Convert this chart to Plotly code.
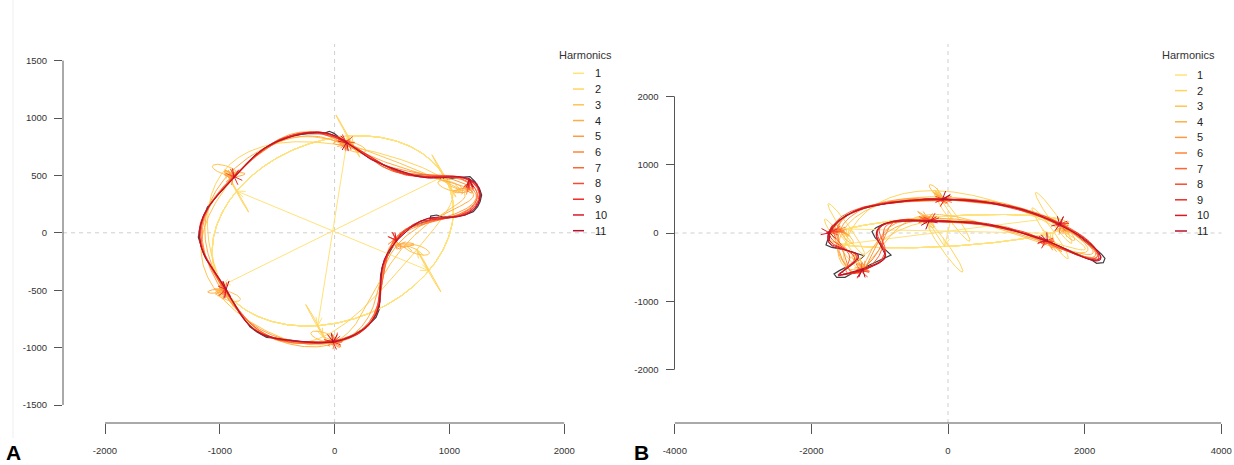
import numpy as np
import plotly.graph_objects as go

# ---------------- data ----------------
# Panel A outline (centred coordinates), starts at the top star
outline_a_x = [99, 192, 308, 424, 541, 686, 860, 976, 1092, 1179, 1223, 1261, 1281, 1267, 1246,
               1208, 1136, 1034, 947, 889, 837, 831, 744, 657, 584, 541, 497, 454, 419, 401,
               395, 395, 387, 361, 303, 236, 163, 105, 41, -40, -185, -330, -476, -592, -673,
               -737, -795, -853, -911, -961, -1019, -1071, -1114, -1143, -1167, -1187, -1178,
               -1158, -1138, -1109, -1056, -998, -940, -894, -839, -766, -679, -586, -476,
               -359, -214, -98, -46, -5, 33]
outline_a_y = [779, 721, 649, 591, 541, 503, 480, 469, 483, 489, 445, 387, 329, 271, 228,
               184, 155, 141, 135, 155, 146, 106, 82, 48, 1, -57, -135, -208, -280, -368,
               -469, -585, -672, -736, -794, -847, -890, -919, -940, -957, -963, -940, -922,
               -911, -867, -818, -736, -649, -556, -469, -382, -301, -237, -179, -98, -39, 24,
               82, 146, 222, 286, 350, 413, 460, 530, 605, 686, 750, 814, 849, 866, 864, 884,
               866, 837]

# Panel B outline, starts near the left tip
outline_b_x = [-1705, -1688, -1606, -1484, -1313, -1093, -849, -556, -264, 29, 322, 615, 908,
               1176, 1444, 1688, 1884, 2030, 2152, 2250, 2298, 2274, 2176, 2103, 1957, 1786,
               1591, 1396, 1200, 956, 712, 468, 224, -20, -264, -508, -752, -947, -1054, -1113,
               -1069, -996, -922, -834, -971, -1166, -1362, -1508, -1630, -1669, -1591, -1425,
               -1288, -1230, -1362, -1532, -1703, -1786, -1767, -1728]
outline_b_y = [20, 68, 176, 264, 337, 400, 444, 478, 493, 493, 478, 444, 390, 317, 220, 102,
               -15, -127, -224, -312, -371, -434, -444, -395, -337, -259, -176, -102, -34, 44,
               102, 142, 161, 171, 181, 181, 161, 132, 78, 20, -63, -151, -239, -322, -386,
               -473, -566, -649, -649, -600, -551, -464, -386, -332, -288, -239, -210, -176,
               -112, -54]

harmonic_labels = ["1", "2", "3", "4", "5", "6", "7", "8", "9", "10", "11"]
harmonic_colors = ["#FFE27A", "#FFD45F", "#FFC452", "#FFAE47", "#FF9A40", "#FF843A",
                   "#FF6433", "#F84A2E", "#EE2B24", "#D91A24", "#B8102C"]

a_xticks = [-2000, -1000, 0, 1000, 2000]
a_yticks = [-1500, -1000, -500, 0, 500, 1000, 1500]
b_xticks = [-4000, -2000, 0, 2000, 4000]
b_yticks = [-2000, -1000, 0, 1000, 2000]

# ---------------- layout geometry (pixels) ----------------
W, H = 1234, 465
A_box = dict(l=63, r=606, t=44, b=423, x0=334.6, y0=232.8, s=0.1148)
B_box = dict(l=674.5, r=1221.5, t=44, b=423, x0=948.0, y0=233.0, s=0.0683)


def rng(box):
    xr = [(box["l"] - box["x0"]) / box["s"], (box["r"] - box["x0"]) / box["s"]]
    yr = [(box["y0"] - box["b"]) / box["s"], (box["y0"] - box["t"]) / box["s"]]
    return xr, yr


def efourier(x, y, nh):
    x = np.asarray(x, float)
    y = np.asarray(y, float)
    dx = np.roll(x, -1) - x
    dy = np.roll(y, -1) - y
    dt = np.hypot(dx, dy)
    dt[dt < 1e-10] = 1e-10
    t1 = np.cumsum(dt)
    t0 = t1 - dt
    T = t1[-1]
    an, bn, cn, dn = [], [], [], []
    for n in range(1, nh + 1):
        k = T / (2 * np.pi ** 2 * n ** 2)
        r = 2 * np.pi * n / T
        an.append(k * np.sum(dx / dt * (np.cos(r * t1) - np.cos(r * t0))))
        bn.append(k * np.sum(dx / dt * (np.sin(r * t1) - np.sin(r * t0))))
        cn.append(k * np.sum(dy / dt * (np.cos(r * t1) - np.cos(r * t0))))
        dn.append(k * np.sum(dy / dt * (np.sin(r * t1) - np.sin(r * t0))))
    xm = (x + np.roll(x, -1)) / 2
    ym = (y + np.roll(y, -1)) / 2
    a0 = np.sum(xm * dt) / T
    c0 = np.sum(ym * dt) / T
    return a0, c0, np.array(an), np.array(bn), np.array(cn), np.array(dn)


def panel_traces(ox, oy, box, xa, ya):
    nh = len(harmonic_labels)
    a0, c0, an, bn, cn, dn = efourier(ox, oy, nh)
    theta = np.linspace(0, 2 * np.pi, 361)
    ts = [2 * np.pi * k / 6 for k in range(1, 7)]
    s = box["s"]
    L = 9.0 / s
    ang = np.deg2rad(20)
    traces = []
    traces.append(go.Scatter(x=list(ox) + [ox[0]], y=list(oy) + [oy[0]], mode="lines",
                             line=dict(color="#3f3f3f", width=1.2), xaxis=xa, yaxis=ya,
                             showlegend=False, hoverinfo="skip"))
    vs_all = []
    hn = np.arange(1, nh + 1)
    for t in ts:
        vx = an * np.cos(hn * t) + bn * np.sin(hn * t)
        vy = cn * np.cos(hn * t) + dn * np.sin(hn * t)
        cx = np.concatenate([[a0], a0 + np.cumsum(vx)])
        cy = np.concatenate([[c0], c0 + np.cumsum(vy)])
        vs_all.append((cx, cy))
    for j in range(nh):
        col = harmonic_colors[j]
        n = np.arange(1, j + 2)[:, None]
        rx = a0 + np.sum(an[:j + 1, None] * np.cos(n * theta) + bn[:j + 1, None] * np.sin(n * theta), axis=0)
        ry = c0 + np.sum(cn[:j + 1, None] * np.cos(n * theta) + dn[:j + 1, None] * np.sin(n * theta), axis=0)
        X, Y = list(rx) + [None], list(ry) + [None]
        ex = an[j] * np.cos(theta) + bn[j] * np.sin(theta)
        ey = cn[j] * np.cos(theta) + dn[j] * np.sin(theta)
        for (cx, cy) in vs_all:
            X += list(ex + cx[j]) + [None]
            Y += list(ey + cy[j]) + [None]
            px, py, qx, qy = cx[j], cy[j], cx[j + 1], cy[j + 1]
            d = np.hypot(qx - px, qy - py)
            X += [px, qx, None]
            Y += [py, qy, None]
            if d * s > 0.3:
                ux, uy = (qx - px) / d, (qy - py) / d
                for sg in (1, -1):
                    c, sn = np.cos(sg * ang), np.sin(sg * ang)
                    hx = ux * c - uy * sn
                    hy = ux * sn + uy * c
                    X += [qx, qx - L * hx, None]
                    Y += [qy, qy - L * hy, None]
        traces.append(go.Scatter(x=X, y=Y, mode="lines", line=dict(color=col, width=1),
                                 xaxis=xa, yaxis=ya, showlegend=False, hoverinfo="skip",
                                 connectgaps=False))
    return traces


fig = go.Figure()
for tr in panel_traces(outline_a_x, outline_a_y, A_box, "x", "y"):
    fig.add_trace(tr)
for tr in panel_traces(outline_b_x, outline_b_y, B_box, "x2", "y2"):
    fig.add_trace(tr)

axfont = dict(family="Liberation Sans, Arial, sans-serif", size=9.5, color="#333333")


def xaxis(box, ticks, anchor):
    xr, yr = rng(box)
    return dict(domain=[box["l"] / W, box["r"] / W], range=xr, anchor=anchor, automargin=False,
                tickmode="array", tickvals=ticks, ticktext=[str(v) for v in ticks],
                ticks="outside", ticklen=10, tickwidth=1, tickcolor="#555555",
                tickfont=axfont, showgrid=False, zeroline=False, showline=False,
                ticklabelstandoff=9)


def yaxis(box, ticks, anchor):
    xr, yr = rng(box)
    return dict(domain=[1 - box["b"] / H, 1 - box["t"] / H], range=yr, anchor=anchor, automargin=False,
                tickmode="array", tickvals=ticks, ticktext=[str(v) for v in ticks],
                ticks="outside", ticklen=8, tickwidth=1, tickcolor="#555555",
                tickfont=axfont, showgrid=False, zeroline=False, showline=False,
                ticklabelstandoff=5)


shapes = []
annotations = []
for (xa, ya, xt, yt, box) in [("x", "y", a_xticks, a_yticks, A_box), ("x2", "y2", b_xticks, b_yticks, B_box)]:
    dash = dict(color="#cfcfcf", width=1, dash="4px,4px")
    shapes.append(dict(type="line", xref=xa + " domain", yref=ya, x0=0, x1=1, y0=0, y1=0, line=dash, layer="below"))
    shapes.append(dict(type="line", xref=xa, yref=ya + " domain", x0=0, x1=0, y0=0, y1=1, line=dash, layer="below"))
    ax = dict(color="#555555", width=1)
    shapes.append(dict(type="line", xref=xa + " domain", yref=ya, x0=0, x1=0, y0=yt[0], y1=yt[-1], line=ax))
    shapes.append(dict(type="line", xref=xa, yref=ya + " domain", x0=xt[0], x1=xt[-1], y0=0, y1=0, line=ax))

legfont = dict(family="Liberation Sans, Arial, sans-serif", size=11, color="#222222")
for (tx, ty, sx0, sx1, lx, y1, dy) in [(585, 55, 573, 584, 593, 73.3, 15.74),
                                       (1188, 55, 1175, 1187, 1195, 75.0, 15.6)]:
    annotations.append(dict(text="Harmonics", xref="paper", yref="paper", x=tx / W, y=1 - ty / H,
                            xanchor="center", yanchor="middle", showarrow=False,
                            font=dict(family="Liberation Sans, Arial, sans-serif", size=11, color="#333333")))
    for i, lab in enumerate(harmonic_labels):
        yy = y1 + dy * i
        shapes.append(dict(type="line", xref="paper", yref="paper", x0=sx0 / W, x1=sx1 / W,
                           y0=1 - yy / H, y1=1 - yy / H, line=dict(color=harmonic_colors[i], width=1.5)))
        annotations.append(dict(text=lab, xref="paper", yref="paper", x=lx / W, y=1 - yy / H,
                                xanchor="left", yanchor="middle", showarrow=False, font=legfont))

for (lab, lx) in [("A", 5), ("B", 633)]:
    annotations.append(dict(text="<b>%s</b>" % lab, xref="paper", yref="paper", x=lx / W, y=0,
                            xanchor="left", yanchor="bottom", showarrow=False, borderpad=0,
                            font=dict(family="Liberation Sans, Arial, sans-serif", size=21, color="#000000")))

shapes.append(dict(type="line", xref="paper", yref="paper", x0=13 / W, x1=13 / W, y0=1 - 438 / H, y1=1,
                   line=dict(color="#eeeeee", width=1), layer="below"))

fig.update_layout(
    width=W, height=H, margin=dict(l=0, r=0, t=0, b=0, autoexpand=False),
    paper_bgcolor="white", plot_bgcolor="white", showlegend=False,
    xaxis=xaxis(A_box, a_xticks, "y"), yaxis=yaxis(A_box, a_yticks, "x"),
    xaxis2=xaxis(B_box, b_xticks, "y2"), yaxis2=yaxis(B_box, b_yticks, "x2"),
    shapes=shapes, annotations=annotations,
)

fig.write_html("out.html")
